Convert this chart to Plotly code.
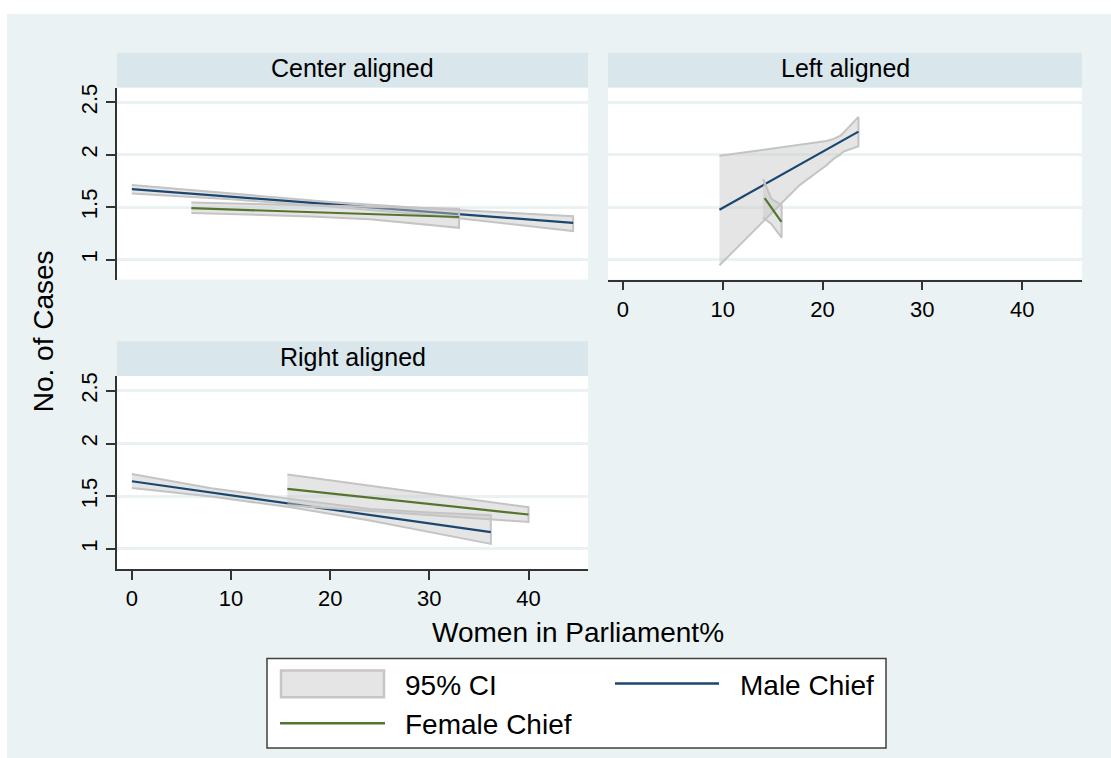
import plotly.graph_objects as go

# ---------------- data ----------------
panel_titles = ["Center aligned", "Left aligned", "Right aligned"]
x_ticks = [0, 10, 20, 30, 40]
y_ticks = [1, 1.5, 2, 2.5]
y_tick_text = ["1", "1.5", "2", "2.5"]
legend_labels = ["95% CI", "Male Chief", "Female Chief"]

# Center aligned
center_male_x = [0, 44.5]
center_male_y = [1.672, 1.35]
center_male_ci_x = [0, 10, 20, 30, 44.5]
center_male_ci_lo = [1.63, 1.575, 1.505, 1.425, 1.272]
center_male_ci_hi = [1.71, 1.628, 1.55, 1.487, 1.413]
center_female_x = [6, 33]
center_female_y = [1.49, 1.406]
center_female_ci_x = [6, 12, 18, 24, 33]
center_female_ci_lo = [1.444, 1.43, 1.412, 1.385, 1.303]
center_female_ci_hi = [1.544, 1.53, 1.515, 1.503, 1.485]

# Left aligned
left_male_x = [9.67, 23.6]
left_male_y = [1.475, 2.22]
left_male_ci_x = [9.67, 12, 14.37, 15.7, 17.7, 20.4, 21.1, 21.75, 22.1, 22.6, 23.6]
left_male_ci_lo = [0.946, 1.168, 1.394, 1.52, 1.71, 1.90, 1.96, 2.0, 2.03, 2.05, 2.08]
left_male_ci_hi = [1.99, 2.02, 2.05, 2.065, 2.09, 2.13, 2.15, 2.18, 2.21, 2.26, 2.36]
left_female_x = [14.2, 15.88]
left_female_y = [1.585, 1.36]
left_female_ci_x = [14.03, 14.87, 15.9]
left_female_ci_lo = [1.40, 1.34, 1.21]
left_female_ci_hi = [1.77, 1.58, 1.52]

# Right aligned
right_male_x = [0, 36.2]
right_male_y = [1.642, 1.16]
right_male_ci_x = [0, 8, 16, 24, 30, 36.2]
right_male_ci_lo = [1.579, 1.497, 1.395, 1.27, 1.16, 1.048]
right_male_ci_hi = [1.711, 1.575, 1.475, 1.38, 1.345, 1.32]
right_female_x = [15.68, 40.0]
right_female_y = [1.569, 1.327]
right_female_ci_x = [15.68, 24, 32, 40.0]
right_female_ci_lo = [1.415, 1.36, 1.31, 1.256]
right_female_ci_hi = [1.706, 1.60, 1.498, 1.396]

# ---------------- styling ----------------
W, H = 1111, 758
FONT = "Liberation Sans, Arial, sans-serif"
BG = "#EAF2F3"
STRIP = "#D9E6EB"
MALE = "#1A476F"
FEMALE = "#55752F"
CI_FILL = "rgba(197,197,197,0.45)"
CI_LINE = "#C4C4C4"
AXIS = "#333333"


def px_x(p):
    return p / W


def px_y(p):
    return 1 - p / H


panels = [
    dict(xa="x", ya="y", left=117, right=588, top=84, bottom=277,
         male=(center_male_x, center_male_y, center_male_ci_x, center_male_ci_lo, center_male_ci_hi),
         female=(center_female_x, center_female_y, center_female_ci_x, center_female_ci_lo, center_female_ci_hi)),
    dict(xa="x2", ya="y2", left=608, right=1082, top=84, bottom=277,
         male=(left_male_x, left_male_y, left_male_ci_x, left_male_ci_lo, left_male_ci_hi),
         female=(left_female_x, left_female_y, left_female_ci_x, left_female_ci_lo, left_female_ci_hi)),
    dict(xa="x3", ya="y3", left=117, right=588, top=374, bottom=568,
         male=(right_male_x, right_male_y, right_male_ci_x, right_male_ci_lo, right_male_ci_hi),
         female=(right_female_x, right_female_y, right_female_ci_x, right_female_ci_lo, right_female_ci_hi)),
]

fig = go.Figure()

for i, p in enumerate(panels):
    for key, color, name in (("male", MALE, "Male Chief"), ("female", FEMALE, "Female Chief")):
        lx, ly, cx, clo, chi = p[key]
        fig.add_trace(go.Scatter(
            x=list(cx) + list(cx)[::-1],
            y=list(chi) + list(clo)[::-1],
            xaxis=p["xa"], yaxis=p["ya"],
            mode="lines", fill="toself", fillcolor=CI_FILL,
            line=dict(color=CI_LINE, width=2),
            name="95% CI", showlegend=False, hoverinfo="skip",
        ))
        fig.add_trace(go.Scatter(
            x=lx, y=ly, xaxis=p["xa"], yaxis=p["ya"],
            mode="lines", line=dict(color=color, width=2.2),
            name=name, showlegend=False,
        ))

layout = dict(
    width=W, height=H,
    margin=dict(l=0, r=0, t=0, b=0),
    paper_bgcolor=BG, plot_bgcolor="white",
    font=dict(family=FONT, color="black", size=22),
    showlegend=False,
)

axis_specs = [
    ("xaxis", "yaxis", False, True),
    ("xaxis2", "yaxis2", True, False),
    ("xaxis3", "yaxis3", True, True),
]
for (xn, yn, showx, showy), p in zip(axis_specs, panels):
    ysuffix = yn[5:]
    xsuffix = xn[5:]
    layout[xn] = dict(
        domain=[px_x(p["left"]), px_x(p["right"])],
        anchor="y" + ysuffix,
        range=[-1.5, 46], tickvals=x_ticks,
        showgrid=False, zeroline=False,
        showline=showx, linecolor=AXIS, linewidth=1.5,
        ticks="outside" if showx else "", ticklen=9, tickcolor=AXIS, tickwidth=1.5,
        showticklabels=showx, tickfont=dict(size=22, color="black"),
        fixedrange=True,
    )
    layout[yn] = dict(
        domain=[px_y(p["bottom"]), px_y(p["top"])],
        anchor="x" + xsuffix,
        range=[0.81, 2.64], tickvals=y_ticks, ticktext=y_tick_text,
        showgrid=True, gridcolor=BG, gridwidth=2.5, zeroline=False,
        showline=showy, linecolor=AXIS, linewidth=1.5,
        ticks="outside" if showy else "", ticklen=9, tickcolor=AXIS, tickwidth=1.5,
        showticklabels=showy, tickangle=-90, tickfont=dict(size=22, color="black"),
        fixedrange=True,
    )

shapes = [
    # white outer margins (top and left)
    dict(type="rect", xref="paper", yref="paper", x0=-0.05, x1=1.05, y0=px_y(10), y1=1.05,
         fillcolor="white", line=dict(width=0), layer="below"),
    dict(type="rect", xref="paper", yref="paper", x0=-0.05, x1=px_x(7), y0=-0.05, y1=1.05,
         fillcolor="white", line=dict(width=0), layer="below"),
]
annotations = []
strip_tops = [49, 49, 339]
for p, title, st in zip(panels, panel_titles, strip_tops):
    shapes.append(dict(type="rect", xref="paper", yref="paper",
                       x0=px_x(p["left"]), x1=px_x(p["right"]),
                       y0=px_y(p["top"]), y1=px_y(st),
                       fillcolor=STRIP, line=dict(width=0), layer="below"))
    annotations.append(dict(text=title, xref="paper", yref="paper",
                            x=px_x((p["left"] + p["right"]) / 2), y=px_y((st + p["top"]) / 2 - 2),
                            xanchor="center", yanchor="middle", showarrow=False,
                            font=dict(size=25, color="black", family=FONT)))

annotations.append(dict(text="No. of Cases", xref="paper", yref="paper",
                        x=px_x(43), y=px_y(329), xanchor="center", yanchor="middle",
                        textangle=-90, showarrow=False,
                        font=dict(size=28, color="black", family=FONT)))
annotations.append(dict(text="Women in Parliament%", xref="paper", yref="paper",
                        x=px_x(578), y=px_y(632), xanchor="center", yanchor="middle",
                        showarrow=False, font=dict(size=28, color="black", family=FONT)))

# ---------------- legend (box, keys, labels) ----------------
shapes.append(dict(type="rect", xref="paper", yref="paper",
                   x0=px_x(267), x1=px_x(886), y0=px_y(748), y1=px_y(658),
                   fillcolor="white", line=dict(color="#404040", width=1.5)))
shapes.append(dict(type="rect", xref="paper", yref="paper",
                   x0=px_x(281), x1=px_x(384), y0=px_y(697), y1=px_y(670),
                   fillcolor="#E5E5E5", line=dict(color="#C6C6C6", width=2.5)))
shapes.append(dict(type="line", xref="paper", yref="paper",
                   x0=px_x(615), x1=px_x(719), y0=px_y(683), y1=px_y(683),
                   line=dict(color=MALE, width=2.5)))
shapes.append(dict(type="line", xref="paper", yref="paper",
                   x0=px_x(280), x1=px_x(385), y0=px_y(723), y1=px_y(723),
                   line=dict(color=FEMALE, width=2.5)))
for label, lx, ly in zip(legend_labels, (403, 738, 403), (685, 685, 724)):
    annotations.append(dict(text=label, xref="paper", yref="paper",
                            x=px_x(lx), y=px_y(ly), xanchor="left", yanchor="middle",
                            showarrow=False, font=dict(size=28, color="black", family=FONT)))

layout["shapes"] = shapes
layout["annotations"] = annotations
fig.update_layout(**layout)

fig.write_html(
    "out.html",
    config={"displayModeBar": False},
    post_script="document.body.style.margin='0';document.body.style.overflow='hidden';",
)
